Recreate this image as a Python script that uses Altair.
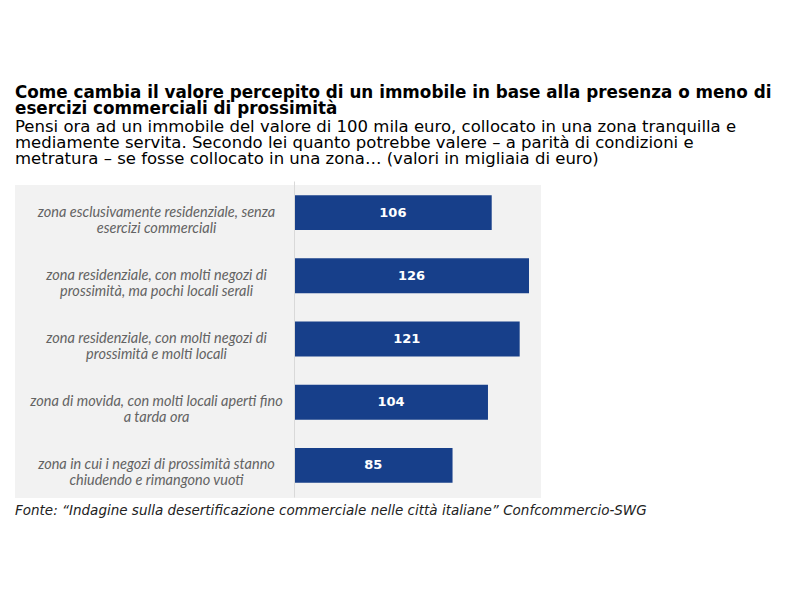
import altair as alt
import pandas as pd

categories = [
    "zona esclusivamente residenziale, senza|esercizi commerciali",
    "zona residenziale, con molti negozi di|prossimità, ma pochi locali serali",
    "zona residenziale, con molti negozi di|prossimità e molti locali",
    "zona di movida, con molti locali aperti fino|a tarda ora",
    "zona in cui i negozi di prossimità stanno|chiudendo e rimangono vuoti",
]
values = [106, 126, 121, 104, 85]

title_lines = [
    "Come cambia il valore percepito di un immobile in base alla presenza o meno di",
    "esercizi commerciali di prossimità",
]
subtitle_lines = [
    "Pensi ora ad un immobile del valore di 100 mila euro, collocato in una zona tranquilla e",
    "mediamente servita. Secondo lei quanto potrebbe valere – a parità di condizioni e",
    "metratura – se fosse collocato in una zona… (valori in migliaia di euro)",
]
source_text = "Fonte: “Indagine sulla desertificazione commerciale nelle città italiane” Confcommercio-SWG"

df = pd.DataFrame({"zona": categories, "valore": values})

W = 249
H = 316
BAR = "#173f8a"
PANEL = "#f2f2f2"

yenc = alt.Y(
    "zona:N",
    sort=categories,
    scale=alt.Scale(paddingInner=0.447, paddingOuter=0.2235),
    axis=alt.Axis(
        title=None,
        ticks=False,
        domain=True,
        domainColor="#d9d9d9",
        domainWidth=1,
        labelExpr="split(datum.label, '|')",
        labelAlign="center",
        labelBaseline="middle",
        labelPadding=138,
        labelFont="Lato",
        labelFontStyle="italic",
        labelFontSize=14.5,
        labelLineHeight=16,
        labelColor="#636363",
        labelLimit=400,
        zindex=1,
    ),
)

xenc = alt.X("valore:Q", scale=alt.Scale(domain=[0, 133.5]), axis=None)

panel = alt.Chart(pd.DataFrame({"k": [0]})).mark_rect(color=PANEL).encode(
    x=alt.value(-279), x2=alt.value(W - 2), y=alt.value(4), y2=alt.value(H + 1)
)

bars = alt.Chart(df).mark_bar(color=BAR).encode(x=xenc, y=yenc)

labels = (
    alt.Chart(df)
    .transform_calculate(mid="datum.valore / 2")
    .mark_text(color="white", font="DejaVu Sans", fontWeight="bold", fontSize=13, baseline="middle")
    .encode(x=alt.X("mid:Q", scale=alt.Scale(domain=[0, 133.5]), axis=None),
            y=alt.Y("zona:N", sort=categories), text="valore:Q")
)

source = alt.Chart(pd.DataFrame({"t": [source_text]})).mark_text(
    align="left", baseline="middle", font="DejaVu Sans", fontStyle="italic",
    fontSize=13.5, color="#222222"
).encode(x=alt.value(-279), y=alt.value(H + 14), text="t:N")

chart = (
    alt.layer(panel, bars, labels, source)
    .properties(
        width=W,
        height=H,
        padding={"left": 15, "top": 84, "right": 5, "bottom": 5},
        title=alt.TitleParams(
            text=title_lines,
            subtitle=subtitle_lines,
            anchor="start",
            frame="bounds",
            font="DejaVu Sans",
            fontSize=16.8,
            fontWeight="bold",
            color="#000000",
            lineHeight=16.3,
            subtitleFont="DejaVu Sans",
            subtitleFontSize=16.5,
            subtitleColor="#000000",
            subtitleLineHeight=16.3,
            subtitlePadding=1,
            offset=13,
        ),
    )
    .configure_view(stroke=None)
)

chart.save("out.html", embed_options={"renderer": "svg", "actions": False})
